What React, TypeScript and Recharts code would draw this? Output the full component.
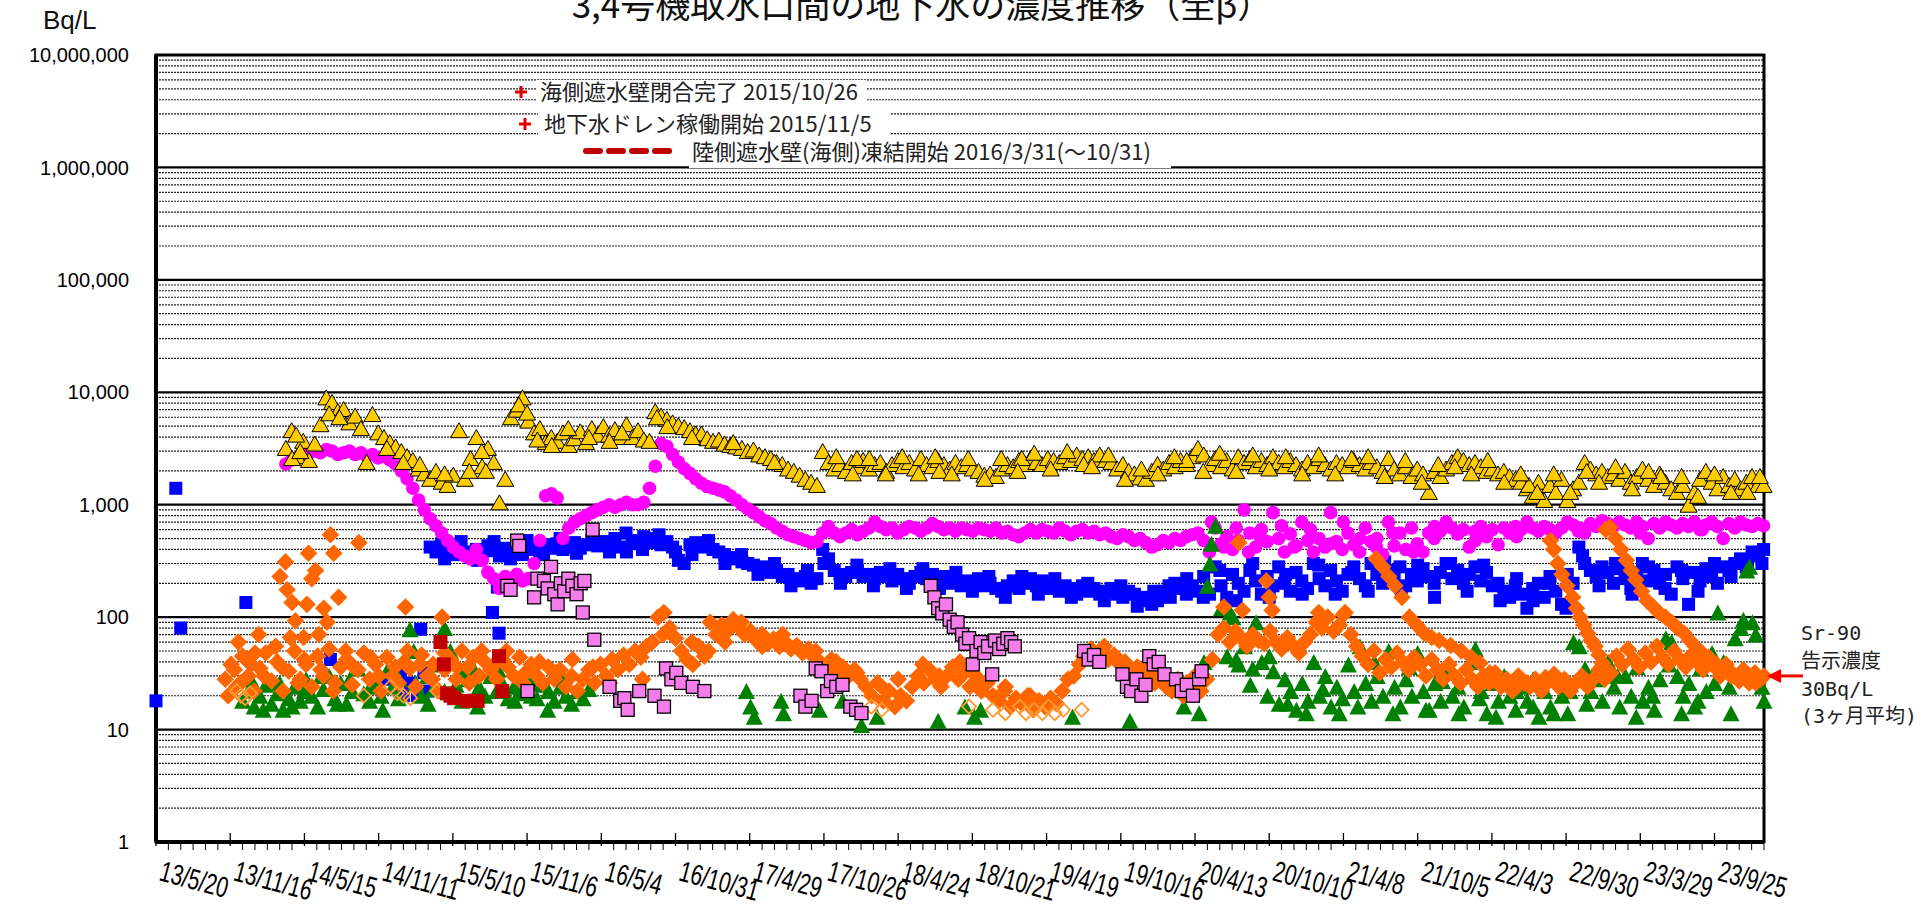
import React from 'react';
import { ScatterChart, Scatter, XAxis, YAxis, CartesianGrid, ReferenceArea, ReferenceDot } from 'recharts';

// x = days from 2013/5/20, labels every 180 days
const xTickLabels = ['13/5/20', '13/11/16', '14/5/15', '14/11/11', '15/5/10', '15/11/6', '16/5/4', '16/10/31', '17/4/29', '17/10/26', '18/4/24', '18/10/21', '19/4/19', '19/10/16', '20/4/13', '20/10/10', '21/4/8', '21/10/5', '22/4/3', '22/9/30', '23/3/29', '23/9/25'];
const xLabelStep = 180;
const xMinorStep = 30;
const xMax = 3900;

const yTicks = [1, 10, 100, 1000, 10000, 100000, 1000000, 10000000];
const yMajorGrid = [10, 100, 1000, 10000, 100000, 1000000];
const yMinorMultipliers = [2, 3, 4, 5, 6, 7, 8, 9];

const legendRows = ['海側遮水壁閉合完了 2015/10/26', '地下水ドレン稼働開始 2015/11/5', '陸側遮水壁(海側)凍結開始 2016/3/31(～10/31)'];
const noteLines = ['Sr-90', '告示濃度', '30Bq/L', '(3ヶ月平均)'];
const noteLevel = 30;

// gold triangles, every 14 days from day 315
const goldStart = 315;
const goldValues = [
  3200, 4600, 2700, 3700, 2500, 3500, 5200, 9000, 8200, 6800, 7100, 5400,
  6200, 4800, 2400, 6400, 4400, 4000, 3600, 3300, 3000, 2700,
  2500, 2100, 1900, 1700, 2000, 1600, 1500, 1850, 4600, 1700,
  2600, 4000, 2200, 3200, 2400, 1050, 1700, 6000, 7000, 9000,
  5600, 4400, 4800, 3600, 4000, 3700, 4400, 3400, 3900, 4500,
  3600, 4800, 4200, 5000, 4200, 4700, 4000, 5200, 4000, 4600,
  3800, 3700, 6800, 6200, 5800, 5400, 5100, 4900, 4600, 4300,
  4300, 3900, 3700, 3800, 3500, 3400, 3300, 3200, 3000, 3100,
  2800, 2700, 2600, 2400, 2300, 2100, 2000, 1850, 1700, 1600,
  1500, 3000, 2400, 2100, 2300, 2000, 2400, 2200, 2500, 2100,
  2300, 2400, 2000, 2300, 2500, 2200, 2400, 2100, 2600, 2300,
  2200, 2500, 2300, 2100, 2400, 2200, 2300, 2100, 2000, 1850,
  1900, 1800, 2100, 2300, 2200, 2500, 2300, 2600, 2400, 2300,
  2600, 2500, 2400, 2700, 2500, 2800, 2600, 2700, 2500, 2800,
  2500, 2400, 2100, 2300, 2000, 1900, 1750, 1700, 2000, 2300,
  2100, 2400, 2200, 2500, 2300, 2700, 3200, 2800, 2300, 2600,
  2200, 2500, 2100, 2700, 2400, 2600, 2200, 2500, 2300, 2700,
  2400, 2200, 2500, 2300, 2100, 2400, 2200, 2600, 2300, 2100,
  2400, 2300, 2200, 2500, 2300, 2100, 2400, 2200, 2000, 2600,
  2100, 1900, 2200, 1800, 2100, 1900, 1300, 2000, 1800, 2100,
  2400, 2700, 2500, 2300, 2400, 2200, 2000, 2100, 1900, 2000,
  1800, 1700, 1600, 1400, 1200, 1600, 1100, 1500, 1300, 1700,
  1100, 1400, 1600, 2400, 2100, 1900, 2000, 1800, 1900, 1700,
  2000, 1600, 1800, 2100, 1700, 1500, 1900, 1600, 1400, 1300,
  1500, 1000, 1300, 1700, 2000, 1600, 1400, 1800, 1500, 1700,
  1400, 1600, 1800, 1500, 1500,
];
const goldExtra = [
  [330, 2600], [340, 4200], [350, 3000], [420, 6500], [445, 6000], [560, 3200], [600, 2400], [640, 2300],
  [700, 1900], [760, 2000], [790, 3000], [800, 2000], [880, 7800], [900, 6600], [925, 3800], [960, 3400],
  [1000, 4800], [1050, 4000], [1100, 3700], [1130, 4400], [1215, 6000], [1240, 5000], [1300, 4000],
  [1400, 3600], [1500, 2400], [1700, 2600], [1900, 2000], [2100, 2600], [2250, 2300], [2500, 2500],
  [2700, 2100], [2900, 2600], [3150, 2200], [3330, 1500], [3470, 2000], [3650, 1800], [3820, 1300],
  [1650, 2700], [1690, 1900], [1730, 2600], [1770, 1900], [1810, 2700], [1850, 1900], [1890, 2700],
  [1930, 1900], [1970, 2600], [2010, 1700], [2050, 2600], [2090, 2000], [2130, 2900], [2170, 2100],
  [2210, 3000], [2270, 2200], [2310, 2800], [2350, 1700], [2390, 2100], [2430, 1900], [2470, 2700],
  [2540, 2000], [2580, 2900], [2620, 2000], [2660, 2800], [2740, 2700], [2780, 1900], [2820, 2800],
  [2860, 1900], [2940, 2700], [2980, 1800], [3030, 2500], [3070, 1600], [3110, 2300], [3190, 1900],
  [3230, 2500], [3270, 1600], [3310, 1900], [3350, 1300], [3390, 1900], [3430, 1300], [3500, 1600],
  [3540, 2200], [3580, 1400], [3620, 2000], [3700, 1800], [3740, 1200], [3780, 1900], [3860, 1300],
  [3890, 1800],
];

// magenta circles, every 14 days from day 315
const magentaStart = 315;
const magentaValues = [
  2300, 2500, 2600, 2800, 2900, 3000, 2900, 3100, 3000, 2800,
  2900, 3000, 2800, 2900, 2700, 2800, 2600, 2700, 2500, 2300,
  2000, 1700, 1400, 1100, 900, 750, 650, 560, 480, 420,
  380, 350, 330, 400, 320, 250, 220, 180, 230, 200,
  240, 210, 220, 300, 480, 1200, 1250, 1150, 500, 620,
  700, 750, 800, 850, 900, 950, 1000, 950, 1000, 1050,
  1000, 1000, 1050, 1400, 2200, 3500, 3300, 2800, 2400, 2100,
  1900, 1700, 1550, 1450, 1400, 1350, 1300, 1200, 1100, 1000,
  920, 850, 780, 720, 680, 620, 580, 540, 520, 500,
  480, 460, 470, 560, 640, 560, 520, 560, 600, 540,
  580, 620, 700, 640, 600, 620, 560, 600, 640, 620,
  580, 620, 680, 640, 600, 620, 580, 620, 600, 580,
  620, 600, 580, 620, 560, 580, 540, 520, 560, 600,
  560, 600, 580, 560, 620, 580, 540, 580, 600, 560,
  580, 540, 560, 520, 500, 540, 520, 480, 500, 460,
  420, 440, 480, 460, 500, 480, 520, 540, 560, 480,
  380, 620, 450, 520, 400, 480, 900, 560, 420, 600,
  470, 850, 500, 380, 550, 430, 700, 480, 380, 500,
  420, 850, 470, 400, 560, 440, 380, 620, 470, 500,
  360, 700, 430, 560, 400, 620, 450, 380, 560, 640,
  580, 700, 620, 550, 600, 420, 580, 640, 520, 600,
  440, 620, 560, 640, 600, 700, 620, 580, 640, 600,
  560, 620, 700, 660, 620, 560, 680, 640, 720, 680,
  640, 700, 660, 620, 700, 640, 500, 680, 620, 700,
  660, 620, 680, 640, 700, 600, 660, 700, 640, 500,
  680, 620, 700, 660, 640, 680, 650,
];
const magentaExtra = [
  [2560, 700], [2590, 420], [2620, 620], [2650, 380], [2680, 500], [2730, 650], [2760, 420], [2800, 600],
  [2850, 450], [2880, 700], [2920, 500], [2960, 420], [3000, 560], [3050, 380], [3100, 500], [3200, 480],
  [3300, 520], [3450, 580], [3600, 560], [3750, 600],
];

// blue squares: scattered early points, then every 14 days from day 665
const blueEarly = [
  [0, 18], [48, 1400], [60, 80], [218, 135], [423, 42], [560, 28], [593, 30], [600, 20], [601, 36],
  [617, 26], [634, 20], [642, 78], [650, 32], [660, 22], [816, 110], [828, 185], [832, 72],
];
const blueStart = 665;
const blueValues = [
  420, 380, 450, 400, 360, 420, 380, 340, 400, 370,
  430, 390, 350, 410, 380, 420, 360, 400, 430, 390,
  440, 410, 450, 400, 420, 460, 410, 440, 480, 430,
  470, 440, 500, 420, 380, 450, 480, 520, 460, 500,
  440, 470, 420, 320, 300, 440, 460, 420, 440, 400,
  380, 360, 340, 330, 310, 300, 290, 270, 280, 250,
  260, 230, 240, 220, 210, 230, 200, 220, 400, 330,
  260, 240, 230, 250, 260, 230, 240, 220, 250, 230,
  210, 240, 220, 200, 230, 250, 220, 240, 210, 230,
  200, 220, 190, 210, 200, 220, 190, 200, 180, 170,
  190, 210, 180, 200, 220, 190, 210, 180, 200, 170,
  190, 180, 160, 190, 170, 180, 160, 170, 180, 160,
  150, 170, 160, 140, 150, 130, 140, 170, 190, 200,
  180, 160, 190, 170, 230, 160, 280, 190, 150, 240,
  200, 170, 260, 210, 160, 230, 190, 280, 200, 170,
  250, 210, 180, 300, 220, 190, 260, 210, 170, 240,
  280, 220, 190, 300, 240, 200, 260, 220, 280, 190,
  240, 210, 270, 230, 150, 250, 300, 220, 260, 200,
  240, 280, 210, 250, 190, 200, 170, 150, 190, 160,
  120, 180, 200, 150, 230, 170, 130, 240, 200, 420,
  300, 260, 230, 280, 250, 200, 270, 220, 180, 250,
  300, 210, 260, 200, 240, 160, 280, 220, 130, 250,
  210, 270, 230, 200, 280, 260, 300, 330, 280, 380,
  350, 400,
];
const blueExtra = [
  [700, 330], [740, 470], [780, 320], [820, 470], [860, 330], [900, 480], [940, 360], [980, 500],
  [1020, 370], [1060, 520], [1100, 380], [1140, 560], [1180, 400], [1220, 540], [1260, 380], [1300, 360],
  [1340, 480], [1380, 300], [1420, 360], [1460, 240], [1500, 300], [1540, 190], [1580, 260], [1620, 300],
  [1660, 200], [1700, 290], [1740, 190], [1780, 270], [1820, 180], [1860, 270], [1900, 180], [1940, 250],
  [1980, 170], [2020, 230], [2060, 150], [2100, 230], [2140, 160], [2180, 220], [2220, 150], [2260, 200],
  [2300, 140], [2340, 190], [2380, 125], [2420, 170], [2460, 150], [2500, 220], [2540, 150], [2580, 260],
  [2620, 140], [2660, 300], [2700, 150], [2740, 240], [2780, 160], [2820, 290], [2860, 160], [2900, 250],
  [2940, 170], [2980, 310], [3020, 180], [3060, 290], [3100, 200], [3140, 300], [3180, 170], [3220, 290],
  [3260, 140], [3300, 220], [3340, 140], [3380, 200], [3420, 120], [3460, 350], [3500, 190], [3540, 300],
  [3580, 160], [3620, 280], [3660, 180], [3700, 260], [3740, 170], [3780, 300], [3820, 230], [3860, 320],
  [3895, 300],
];

// orange diamonds: base every 14 days from day 168, plus extra points
const orangeStart = 168;
const orangeValues = [
  28, 38, 24, 45, 30, 22, 35, 48, 27, 40,
  22, 33, 50, 28, 38, 24, 45, 30, 52, 26,
  36, 42, 25, 34, 48, 28, 38, 22, 44, 30,
  26, 40, 35, 24, 46, 30, 38, 22, 34, 42,
  28, 50, 36, 44, 30, 40, 34, 28, 42, 36,
  30, 44, 32, 38, 30, 26, 36, 28, 34, 24,
  30, 22, 28, 34, 26, 38, 30, 42, 34, 46,
  38, 50, 44, 55, 60, 100, 110, 80, 65, 50,
  42, 38, 55, 45, 90, 70, 85, 75, 95, 80,
  70, 75, 62, 70, 58, 64, 55, 60, 52, 56,
  48, 52, 44, 40, 36, 42, 32, 36, 30, 34,
  28, 24, 20, 26, 18, 22, 16, 20, 18, 24,
  30, 26, 34, 28, 24, 30, 36, 28, 32, 24,
  30, 22, 26, 20, 18, 22, 16, 19, 17, 20,
  15, 18, 16, 19, 17, 22, 28, 30, 38, 48,
  52, 45, 50, 42, 46, 38, 34, 30, 36, 28,
  32, 26, 30, 24, 22, 28, 20, 24, 30, 22,
  28, 42, 70, 80, 60, 75, 65, 55, 70, 62,
  58, 75, 60, 52, 66, 56, 48, 60, 70, 90,
  80, 100, 75, 85, 110, 70, 55, 45, 38, 50,
  32, 42, 36, 48, 40, 34, 44, 38, 30, 42,
  34, 28, 38, 30, 26, 34, 28, 24, 30, 26,
  32, 24, 28, 22, 30, 26, 24, 28, 22, 26,
  30, 24, 28, 22, 26, 30, 24, 28, 34, 28,
  32, 45, 38, 52, 42, 36, 48, 40, 55, 44,
  38, 50, 42, 36, 46, 40, 34, 44, 36, 30,
  38, 32, 28, 34, 26, 32, 28,
];
const orangeExtra = [
  [175, 20], [190, 34], [200, 60], [205, 26], [230, 38], [240, 48], [249, 70], [262, 30], [290, 55],
  [301, 230], [305, 36], [314, 310], [318, 175], [326, 66], [330, 135], [338, 93], [345, 26], [358, 66],
  [360, 42], [366, 130], [370, 370], [378, 220], [387, 260], [395, 70], [400, 34], [407, 120], [415, 90],
  [423, 540], [430, 22], [431, 370], [443, 150], [460, 50], [480, 36], [492, 460], [520, 44], [540, 30],
  [580, 36], [605, 123], [610, 50], [640, 38], [670, 28], [694, 100], [700, 48], [730, 36], [760, 26],
  [790, 50], [820, 38], [850, 50], [890, 26], [930, 40], [970, 32], [1010, 42], [1060, 36], [1100, 26],
  [1180, 28], [1230, 70], [1300, 60], [1340, 50], [1380, 60], [1420, 90], [1470, 55], [1520, 70],
  [1600, 50], [1650, 40], [1700, 32], [1760, 24], [1800, 28], [1860, 38], [1900, 30], [1950, 40],
  [2000, 26], [2060, 24], [2120, 20], [2250, 45], [2300, 55], [2350, 40], [2400, 34], [2450, 28],
  [2500, 26], [2590, 123], [2626, 460], [2635, 115], [2693, 210], [2700, 150], [2707, 115], [2820, 110],
  [2880, 105],
  [2959, 330], [2975, 280], [2990, 230], [3005, 190], [3022, 150], [3040, 100], [3058, 85], [3076, 72],
  [3094, 66], [3112, 62], [3140, 56], [3166, 50], [3190, 44], [3211, 39], [3235, 32], [3256, 27],
  [3280, 25], [3301, 24], [3325, 26], [3346, 27], [3370, 29], [3391, 31],
  [3382, 480], [3390, 400], [3400, 300], [3410, 240], [3422, 190], [3436, 150], [3445, 120], [3454, 100],
  [3463, 85], [3472, 72], [3481, 62], [3490, 55], [3500, 46], [3508, 39], [3517, 34], [3526, 31],
  [3516, 600], [3526, 630], [3540, 500], [3553, 400], [3566, 320], [3578, 260], [3589, 215], [3603, 170],
  [3616, 140], [3630, 125], [3645, 110], [3661, 100], [3676, 90], [3690, 80], [3706, 72], [3720, 62],
  [3733, 55], [3750, 48], [3769, 42], [3785, 38], [3800, 34], [3820, 30], [3840, 27], [3860, 30],
  [3880, 26], [3900, 30],
];

// open orange diamonds
const orangeOpen = [
  [196, 22], [206, 20], [216, 19], [228, 21], [504, 20], [569, 24], [585, 21], [600, 20], [617, 19],
  [682, 22], [1735, 16], [1760, 15], [1972, 16], [2030, 15], [2060, 14], [2095, 16], [2110, 14],
  [2130, 15], [2150, 14], [2165, 16], [2180, 14], [2200, 15], [2245, 15],
];

// green triangles
const greenEarlyStart = 210;
const greenEarlyValues = [
  18, 22, 16, 20, 25, 17, 21, 15, 19, 24,
  18, 28, 20, 16, 23, 30, 19, 26, 17, 22,
  35, 21, 18, 27, 20, 33, 24, 19, 42, 78,
  26, 20, 30, 23, 38, 80, 50, 25, 18, 28,
  35, 24, 20, 30, 22, 26, 19, 24, 21, 28,
  20, 19, 25, 22, 18, 24, 20, 17, 22, 19,
  23,
];
const greenLateStart = 2542;
const greenLateValues = [
  40, 300, 650, 120, 45, 100, 38, 55, 25, 90,
  40, 20, 33, 17, 28, 22, 15, 26, 18, 40,
  20, 30, 16, 24, 19, 38, 22, 55, 26, 18,
  30, 20, 50, 24, 16, 28, 20, 48, 22, 15,
  26, 18, 35, 20, 24, 16, 40, 52, 22, 14,
  26, 18, 30, 20, 15, 24, 18, 28, 13, 22,
  16, 30, 20, 14, 60, 55, 35, 22, 28, 18,
  40, 24, 16, 30, 20, 36, 18, 24, 15, 28,
  65, 60, 30, 20, 26, 16, 35, 22, 48, 110,
  40, 24, 65, 80, 260, 90, 30, 18,
];
const greenExtra = [
  [230, 28], [260, 15], [300, 26], [330, 16], [360, 22], [400, 30], [440, 17], [470, 28], [520, 24],
  [550, 15], [590, 28], [625, 50], [660, 17], [700, 22], [740, 32], [780, 16], [830, 34], [870, 18],
  [910, 26], [950, 15], [990, 28],
  [1432, 22], [1442, 16], [1451, 13], [1516, 18], [1522, 14], [1609, 15], [1665, 18], [1711, 11],
  [1749, 13], [1897, 12], [1962, 16], [1985, 13], [2000, 15], [2223, 13], [2362, 12], [2493, 16], [2530, 14],
  [2550, 190], [2560, 450], [2605, 110], [2620, 42], [2660, 35], [2700, 45], [2745, 17], [2790, 14],
  [2830, 23], [2870, 14], [2915, 16], [2955, 40], [3000, 14], [3040, 36], [3080, 15], [3120, 27],
  [3160, 14], [3210, 19], [3250, 13], [3300, 22], [3340, 16], [3390, 14], [3430, 22], [3470, 17],
  [3500, 38], [3545, 30], [3590, 13], [3630, 20], [3670, 38], [3700, 14], [3740, 18], [3780, 26],
  [3820, 14], [3850, 95], [3865, 280], [3880, 70], [3895, 24],
];

// pink squares (black outline)
const pinkPoints = [
  [852, 190], [860, 175], [876, 480], [881, 430], [901, 22], [917, 150], [925, 220], [941, 210], [950, 180],
  [958, 280], [966, 160], [974, 130], [982, 200], [990, 170], [1000, 220], [1010, 190], [1020, 160],
  [1030, 200], [1035, 110], [1039, 210], [1059, 600], [1063, 63], [1100, 24], [1126, 18], [1136, 19],
  [1144, 15], [1172, 22], [1209, 20], [1232, 16], [1237, 35], [1250, 28], [1262, 32], [1274, 26],
  [1302, 24], [1330, 22], [1563, 20], [1575, 16], [1590, 18], [1600, 35], [1614, 33], [1628, 22],
  [1637, 27], [1650, 24], [1665, 25], [1684, 16], [1698, 15], [1711, 14],
  [1879, 190], [1888, 150], [1897, 120], [1907, 108], [1916, 130], [1925, 95], [1935, 82], [1944, 90],
  [1955, 70], [1963, 58], [1972, 65], [1981, 38], [1990, 50], [2000, 60], [2009, 48], [2018, 55],
  [2028, 31], [2035, 62], [2045, 52], [2055, 58], [2065, 65], [2074, 60], [2083, 55],
  [2251, 50], [2262, 42], [2275, 46], [2288, 40], [2344, 31], [2355, 24], [2365, 22], [2378, 28],
  [2390, 20], [2400, 25], [2409, 45], [2420, 38], [2432, 40], [2446, 31], [2474, 28], [2488, 22],
  [2500, 25], [2515, 20], [2530, 28], [2536, 33],
];

// dark red squares
const darkRedPoints = [
  [690, 60], [698, 38], [706, 21], [714, 20], [723, 19], [755, 18], [771, 18], [780, 18], [832, 45], [840, 22],
];

const steps = (start: number, vals: number[]) => vals.map((y, i) => ({ x: start + i * 14, y }));
const pairs = (list: number[][]) => list.map(([x, y]) => ({ x, y }));

const goldData = [...steps(goldStart, goldValues), ...pairs(goldExtra)];
const magentaData = [...steps(magentaStart, magentaValues), ...pairs(magentaExtra)];
const blueData = [...pairs(blueEarly), ...steps(blueStart, blueValues), ...pairs(blueExtra)];
const orangeData = [...steps(orangeStart, orangeValues), ...pairs(orangeExtra)];
const orangeOpenData = pairs(orangeOpen);
const greenData = [...steps(greenEarlyStart, greenEarlyValues), ...steps(greenLateStart, greenLateValues), ...pairs(greenExtra)];
const pinkData = pairs(pinkPoints);
const darkRedData = pairs(darkRedPoints);

const xTicks: number[] = [];
for (let d = 0; d <= xMax; d += xMinorStep) xTicks.push(d);
const yMinorGrid = yTicks.slice(0, 7).flatMap((d) => yMinorMultipliers.map((m) => m * d));

const LATIN = "'Liberation Sans', Arial, sans-serif";
const JP = "'Noto Sans CJK JP', 'Noto Sans', sans-serif";

const triangle = (fill: string, stroke: string, w: number, h: number) => (p: any) => {
  const { cx, cy } = p;
  if (cx == null || cy == null) return <g />;
  return (
    <polygon
      points={`${cx},${cy - h / 2} ${cx - w / 2},${cy + h / 2} ${cx + w / 2},${cy + h / 2}`}
      fill={fill}
      stroke={stroke}
      strokeWidth={stroke === 'none' ? 0 : 1}
    />
  );
};
const square = (fill: string, stroke: string, s: number) => (p: any) => {
  const { cx, cy } = p;
  if (cx == null || cy == null) return <g />;
  return <rect x={cx - s / 2} y={cy - s / 2} width={s} height={s} fill={fill} stroke={stroke} strokeWidth={stroke === 'none' ? 0 : 1.3} />;
};
const diamond = (fill: string, stroke: string, r: number) => (p: any) => {
  const { cx, cy } = p;
  if (cx == null || cy == null) return <g />;
  return (
    <polygon
      points={`${cx},${cy - r} ${cx + r},${cy} ${cx},${cy + r} ${cx - r},${cy}`}
      fill={fill}
      stroke={stroke}
      strokeWidth={stroke === 'none' ? 0 : 1.8}
    />
  );
};
const circle = (fill: string, r: number) => (p: any) => {
  const { cx, cy } = p;
  if (cx == null || cy == null) return <g />;
  return <circle cx={cx} cy={cy} r={r} fill={fill} />;
};

function XTick(props: any) {
  const { x, y, payload } = props;
  const v = payload?.value ?? 0;
  if (v % xLabelStep !== 0) {
    return <line x1={x} x2={x} y1={y + 2} y2={y + 8} stroke="#000" strokeWidth={1} />;
  }
  const label = xTickLabels[v / xLabelStep];
  return (
    <g>
      <line x1={x} x2={x} y1={y - 9} y2={y + 4} stroke="#000" strokeWidth={1.3} />
      {label && (
        <text transform={`translate(${x + 2},${y + 38}) rotate(15) scale(0.72,1)`} fontSize={29} fill="#000" fontFamily={LATIN}>
          {label}
        </text>
      )}
    </g>
  );
}

function LimitNote(p: any) {
  const { cx, cy } = p;
  if (cx == null || cy == null) return <g />;
  const offs = [-36, -8, 20, 47];
  return (
    <g>
      <line x1={cx + 39} x2={cx + 14} y1={cy} y2={cy} stroke="#FF0000" strokeWidth={3} />
      <polygon points={`${cx + 3},${cy} ${cx + 17},${cy - 7} ${cx + 17},${cy + 7}`} fill="#FF0000" />
      {noteLines.map((t, i) => (
        <text key={t} x={cx + 37} y={cy + offs[i]} fontSize={20} fill="#222" fontFamily={`'DejaVu Sans Mono', ${JP}`}>
          {t}
        </text>
      ))}
    </g>
  );
}

export default function App() {
  return (
    <div style={{ position: 'absolute', left: 0, top: 0, width: 1924, height: 907, background: '#fff', overflow: 'hidden' }}>
      <ScatterChart width={1924} height={907} margin={{ top: 55, right: 160, bottom: 0, left: 0 }}>
        <CartesianGrid horizontal vertical={false} horizontalValues={yMinorGrid} stroke="#222" strokeDasharray="2 1" strokeWidth={1.2} />
        <CartesianGrid horizontal vertical={false} horizontalValues={yMajorGrid} stroke="#000" strokeWidth={2.2} />
        <XAxis
          type="number"
          dataKey="x"
          domain={[0, xMax]}
          ticks={xTicks}
          interval={0}
          tickSize={0}
          tickMargin={0}
          tickLine={false}
          axisLine={{ stroke: '#000', strokeWidth: 4 }}
          height={65}
          tick={(p: any) => <XTick {...p} />}
        />
        <YAxis
          type="number"
          dataKey="y"
          scale="log"
          domain={[1, 10000000]}
          ticks={yTicks}
          interval={0}
          allowDataOverflow
          tickSize={0}
          tickMargin={27}
          tickLine={false}
          width={156}
          axisLine={{ stroke: '#000', strokeWidth: 4 }}
          tick={{ fontSize: 20, fill: '#000', fontFamily: LATIN }}
          tickFormatter={(v: number) => v.toLocaleString('en-US')}
        />
        <Scatter data={blueData} isAnimationActive={false} shape={square('#0000FF', 'none', 13)} />
        <Scatter data={magentaData} isAnimationActive={false} shape={circle('#FF00FF', 6.8)} />
        <Scatter data={goldData} isAnimationActive={false} shape={triangle('#FFCC00', '#000', 17, 15)} />
        <Scatter data={greenData} isAnimationActive={false} shape={triangle('#008000', 'none', 17, 16)} />
        <Scatter data={orangeData} isAnimationActive={false} shape={diamond('#FF6600', 'none', 8.8)} />
        <Scatter data={orangeOpenData} isAnimationActive={false} shape={diamond('none', '#FF9933', 7)} />
        <Scatter data={pinkData} isAnimationActive={false} shape={square('#F47CEB', '#000', 13)} />
        <Scatter data={darkRedData} isAnimationActive={false} shape={square('#C00000', 'none', 14)} />
        <ReferenceArea x1={0} x2={xMax} y1={1} y2={10000000} fill="none" stroke="#000" strokeWidth={3} />
        <ReferenceDot x={xMax} y={noteLevel} r={0} ifOverflow="visible" shape={(p: any) => <LimitNote {...p} />} />
      </ScatterChart>
      <svg width={1924} height={907} style={{ position: 'absolute', left: 0, top: 0, pointerEvents: 'none' }}>
        <text x={922} y={18} textAnchor="middle" fontSize={35} fill="#111" fontFamily={JP}>
          3,4号機取水口間の地下水の濃度推移（全β）
        </text>
        <text x={43} y={29} fontSize={26} fill="#111" fontFamily={LATIN}>
          Bq/L
        </text>
        <rect x={536} y={80} width={330} height={25} fill="#fff" />
        <rect x={538} y={111} width={352} height={26} fill="#fff" />
        <rect x={689} y={137} width={482} height={31} fill="#fff" />
        <g stroke="#E00000" strokeWidth={3}>
          <line x1={515} x2={527} y1={92} y2={92} />
          <line x1={521} x2={521} y1={86} y2={98} />
          <line x1={519} x2={531} y1={124} y2={124} />
          <line x1={525} x2={525} y1={118} y2={130} />
        </g>
        <g stroke="#C00000" strokeWidth={6} strokeLinecap="round">
          <line x1={586} x2={600} y1={151} y2={151} />
          <line x1={609} x2={623} y1={151} y2={151} />
          <line x1={632} x2={646} y1={151} y2={151} />
          <line x1={655} x2={669} y1={151} y2={151} />
        </g>
        <text x={540} y={100} fontSize={22} fill="#222" fontFamily={JP}>{legendRows[0]}</text>
        <text x={544} y={132} fontSize={22} fill="#222" fontFamily={JP}>{legendRows[1]}</text>
        <text x={692} y={160} fontSize={22} fill="#222" fontFamily={JP}>{legendRows[2]}</text>
      </svg>
    </div>
  );
}
